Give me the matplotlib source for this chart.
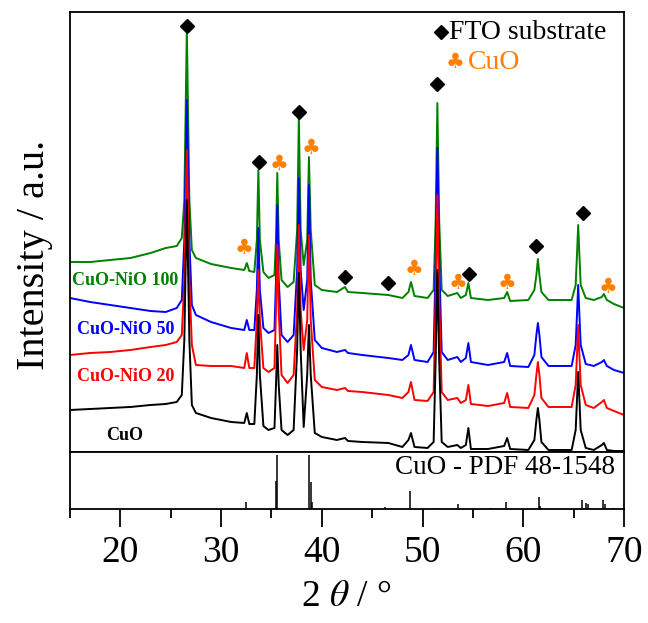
import matplotlib
matplotlib.use("Agg")
import matplotlib.pyplot as plt
from matplotlib.ticker import MultipleLocator

plt.rcParams["font.family"] = ["Liberation Serif", "DejaVu Serif"]
plt.rcParams["mathtext.fontset"] = "stix"

# shared 2-theta vertices
two_theta = [
    15, 17, 19, 21, 23, 24.5, 25.6, 26.1, 26.35, 26.6, 26.85, 27.1, 27.5, 29, 31,
    32.3, 32.55, 32.8, 33.3, 33.55, 33.7, 33.85, 34.2, 34.7, 35.3, 35.45, 35.58,
    35.72, 36.0, 36.6, 37.2, 37.55, 37.72, 37.9, 38.2, 38.55, 38.72, 38.9, 39.3,
    40.0, 41.5, 42.3, 42.6, 44, 46.6, 48.0, 48.6, 48.85, 49.2, 50.5, 51.1, 51.3,
    51.47, 51.65, 51.9, 52.5, 53.45, 53.8, 54.3, 54.55, 54.8, 56.5, 58.1, 58.4,
    58.7, 60.5, 61.1, 61.3, 61.45, 61.6, 61.8, 62.5, 64.8, 65.2, 65.35, 65.45,
    65.55, 65.7, 66.2, 67.0, 67.8, 68.0, 68.3, 69.0, 70.0,
]

# stacked intensities (a.u., offsets included)
cuo_nio_100 = [
    190, 190, 192, 194, 199, 204, 206, 214, 252, 422, 252, 202, 194, 188, 184,
    182, 189, 181, 180, 212, 282, 212, 180, 174, 177, 212, 279,
    212, 172, 165, 170, 222, 334, 222, 187, 212, 295, 222, 167,
    162, 160, 165, 160, 159, 157, 154, 160, 170, 156, 154, 162, 232,
    349, 232, 162, 156, 159, 154, 157, 169, 154, 152, 154, 160,
    151, 152, 162, 177, 193, 177, 160, 152, 152, 167, 202, 227,
    202, 167, 154, 152, 155, 158, 152, 148, 144,
]
cuo_nio_50 = [
    154, 150, 147, 144, 141, 140, 144, 152, 212, 352, 212, 147, 137, 130, 124,
    122, 132, 122, 122, 162, 224, 162, 124, 119, 122, 172, 247,
    172, 117, 110, 117, 182, 274, 182, 142, 172, 267, 172, 112,
    104, 100, 102, 99, 97, 94, 92, 97, 107, 92, 90, 100, 192,
    304, 192, 100, 92, 95, 90, 94, 109, 90, 87, 90, 99,
    86, 85, 97, 117, 129, 117, 95, 86, 86, 107, 142, 167,
    142, 107, 88, 86, 90, 92, 86, 82, 79,
]
cuo_nio_20 = [
    97, 99, 100, 102, 105, 107, 110, 117, 172, 302, 172, 107, 87, 86, 86,
    84, 99, 84, 84, 132, 182, 132, 84, 80, 84, 142, 207,
    142, 77, 69, 77, 142, 227, 142, 102, 132, 217, 132, 72,
    65, 62, 64, 61, 60, 57, 54, 60, 70, 52, 51, 60, 152,
    257, 152, 60, 52, 54, 49, 52, 67, 48, 46, 49, 59,
    45, 44, 57, 77, 90, 77, 54, 45, 45, 67, 102, 127,
    102, 67, 47, 44, 50, 52, 44, 41, 37,
]
cuo = [
    42, 43, 44, 45, 47, 48, 50, 57, 112, 252, 112, 47, 39, 34, 30,
    29, 39, 28, 28, 77, 137, 77, 26, 22, 24, 67, 107,
    67, 22, 17, 22, 102, 179, 102, 25, 77, 127, 77, 19,
    15, 12, 14, 11, 10, 9, 5, 12, 19, 5, 4, 10, 92,
    182, 92, 10, 5, 7, 4, 7, 24, 3, 3, 6, 14,
    3, 2, 12, 32, 44, 32, 10, 2, 2, 22, 57, 80,
    57, 22, 4, 2, 7, 9, 2, 1, 1,
]

series_names = ["CuO-NiO 100", "CuO-NiO 50", "CuO-NiO 20", "CuO"]
series_colors = ["#008000", "#0000ff", "#ff0000", "#000000"]

# peak markers
fto_pos = [26.62, 33.77, 37.74, 42.31, 46.58, 51.45, 54.62, 61.28, 65.94]
fto_height = [426, 290, 340, 175, 169, 368, 178, 206, 239]
cuo_mark_pos = [32.28, 35.75, 38.93, 49.16, 53.53, 58.40, 68.43]
cuo_mark_height = [204, 288, 304, 183, 169, 169, 165]

# reference pattern CuO PDF 48-1548 (relative)
pdf_pos = [32.50, 35.42, 35.54, 38.71, 38.90, 39.0, 46.27, 48.72, 51.34, 53.49,
           56.75, 58.27, 61.52, 61.70, 65.80, 66.22, 66.40, 67.90, 68.12, 68.90]
pdf_int = [0.13, 0.49, 0.95, 0.95, 0.48, 0.12, 0.04, 0.31, 0.02, 0.09,
           0.02, 0.12, 0.21, 0.06, 0.15, 0.10, 0.08, 0.15, 0.09, 0.02]

ORANGE = "#ff8000"

fig = plt.figure(figsize=(6.48, 6.23), dpi=100)
ax = fig.add_axes([0.108, 0.2745, 0.855, 0.7062])
ax2 = fig.add_axes([0.108, 0.183, 0.855, 0.0915], sharex=ax)

for data, color in zip([cuo_nio_100, cuo_nio_50, cuo_nio_20, cuo], series_colors):
    ax.plot(two_theta, data, color=color, lw=1.4)

ax.plot(fto_pos, fto_height, ls="none", marker="D", ms=7, color="black")
for x, y in zip(cuo_mark_pos, cuo_mark_height):
    ax.text(x, y, "\u2663", color=ORANGE, fontsize=15, family="DejaVu Sans",
            ha="center", va="center")

label_x = [15.2, 15.7, 15.7, 18.6]
label_y = [172, 122, 75, 16]
for name, color, x, y in zip(series_names, series_colors, label_x, label_y):
    ax.text(x, y, name, color=color, fontsize=13, fontweight="bold",
            ha="left", va="center")

# legend
ax.plot([51.84], [420], ls="none", marker="D", ms=7, color="black")
ax.text(52.6, 420, "FTO substrate", fontsize=20, ha="left", va="center")
ax.text(53.2, 390, "\u2663", color=ORANGE, fontsize=15, family="DejaVu Sans",
        ha="center", va="center")
ax.text(54.5, 390, "CuO", color=ORANGE, fontsize=20, ha="left", va="center")

ax.set_xlim(15, 70)
ax.set_ylim(0, 440)
ax.tick_params(bottom=False, left=False, labelbottom=False, labelleft=False)

ax2.vlines(pdf_pos, 0, pdf_int, color="black", lw=1.1)
ax2.set_ylim(0, 1)
ax2.text(69.1, 0.72, "CuO - PDF 48-1548", fontsize=19.5, ha="right", va="center")
ax2.xaxis.set_major_locator(MultipleLocator(10))
ax2.xaxis.set_minor_locator(MultipleLocator(5))
ax2.tick_params(axis="x", which="major", direction="out", length=13, width=1.3,
                labelsize=27, pad=6)
ax2.tick_params(axis="x", which="minor", direction="out", length=6.5, width=1.3)
ax2.tick_params(left=False, labelleft=False)

for a in (ax, ax2):
    for s in a.spines.values():
        s.set_linewidth(1.3)

fig.text(0.054, 0.59, "Intensity / a.u.", rotation=90, fontsize=29,
         ha="center", va="center")
fig.text(0.535, 0.042, r"2 $\theta$ / °", fontsize=27, ha="center", va="center")

fig.savefig("out.png", dpi=100)
